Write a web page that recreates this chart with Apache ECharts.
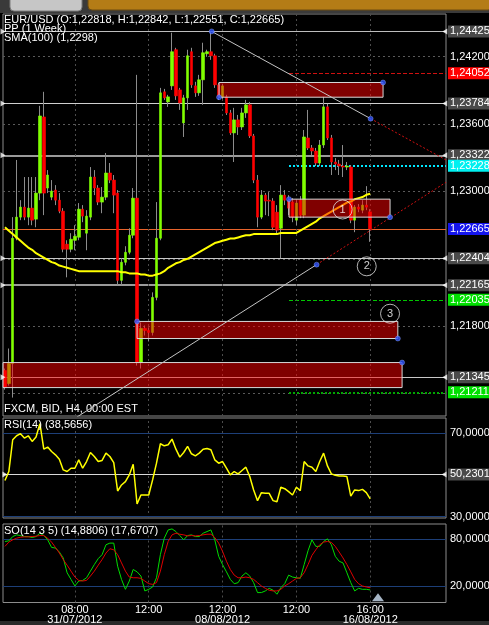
<!DOCTYPE html>
<html>
<head>
<meta charset="utf-8">
<script src="https://cdn.jsdelivr.net/npm/echarts@6/dist/echarts.min.js"></script>
<style>
html, body { margin: 0; padding: 0; background: #000; }
#chart { width: 489px; height: 625px; }
</style>
</head>
<body>
<div id="chart"></div>
<script>
// slots on the time axis, bars + empty room on the right
var slotCount = 114;
var timeLabels = ['08:00\n31/07/2012', '12:00', '12:00\n08/08/2012', '12:00', '16:00\n16/08/2012'];
var timeLabelIdx = [18, 37, 56, 75, 94];

// EUR/USD H4 bars: open, close, low, high
var ohlc = [
  [1.21405,1.21253,1.21235,1.21423],[1.21289,1.21467,1.21271,1.21601],[1.21467,1.22583,1.21164,1.22771],
  [1.22583,1.22771,1.22565,1.23280],[1.22771,1.22860,1.22744,1.22922],[1.22860,1.22771,1.22744,1.23128],
  [1.22771,1.22851,1.22699,1.23128],[1.22851,1.22744,1.22699,1.23128],[1.22753,1.22985,1.22681,1.23128],
  [1.22985,1.23672,1.22922,1.23762],[1.23663,1.22985,1.22789,1.23887],[1.23030,1.23146,1.22985,1.23190],
  [1.22949,1.23003,1.22922,1.23101],[1.23012,1.22922,1.22878,1.23056],[1.22922,1.22824,1.22806,1.22985],
  [1.22824,1.22485,1.22458,1.22851],[1.22530,1.22485,1.22235,1.22565],[1.22485,1.22574,1.22458,1.22628],
  [1.22565,1.22601,1.22476,1.22699],[1.22592,1.22842,1.22565,1.22896],[1.22842,1.22780,1.22726,1.22878],
  [1.22628,1.22780,1.22476,1.22833],[1.22771,1.23128,1.22744,1.23217],[1.23128,1.23030,1.22967,1.23190],
  [1.23030,1.22905,1.22878,1.23056],[1.22905,1.22949,1.22806,1.23039],[1.22949,1.23164,1.22922,1.23342],
  [1.23164,1.23101,1.23074,1.23253],[1.23101,1.22967,1.22806,1.23146],[1.22985,1.22208,1.22164,1.23012],
  [1.22208,1.22369,1.22164,1.22405],[1.22369,1.22458,1.22342,1.22512],[1.22458,1.22610,1.22440,1.22672],
  [1.22610,1.22940,1.22583,1.23030],[1.22940,1.21476,1.21449,1.24038],[1.21476,1.21780,1.21423,1.21833],
  [1.21780,1.21762,1.21717,1.21806],[1.21762,1.21744,1.21664,1.21789],[1.21744,1.22056,1.21717,1.22101],
  [1.22056,1.22583,1.22030,1.22905],[1.22583,1.23878,1.22565,1.23922],[1.23887,1.23833,1.23815,1.23913],
  [1.23797,1.23842,1.23753,1.23860],[1.23940,1.24244,1.23904,1.24413],[1.24262,1.23851,1.23815,1.24279],
  [1.23904,1.23788,1.23726,1.23922],[1.23610,1.23833,1.23485,1.23860],[1.23833,1.24208,1.23726,1.24262],
  [1.24244,1.23949,1.23922,1.24279],[1.23940,1.23878,1.23842,1.23976],[1.23878,1.23994,1.23851,1.24038],
  [1.23994,1.24235,1.23771,1.24324],[1.24226,1.24244,1.24199,1.24262],[1.24244,1.24208,1.24172,1.24422],
  [1.24208,1.23949,1.23922,1.24226],[1.23949,1.23842,1.23815,1.23967],[1.23842,1.23940,1.23824,1.23958],
  [1.23842,1.23699,1.23681,1.23860],[1.23699,1.23521,1.23503,1.23726],[1.23521,1.23637,1.23262,1.23744],
  [1.23637,1.23574,1.23503,1.23681],[1.23574,1.23699,1.23547,1.23744],[1.23699,1.23771,1.23655,1.23815],
  [1.23771,1.23494,1.23476,1.23797],[1.23494,1.23101,1.23074,1.23512],[1.23101,1.22771,1.22681,1.23146],
  [1.22771,1.22967,1.22753,1.23012],[1.22967,1.22914,1.22789,1.22985],[1.22922,1.22914,1.22780,1.22994],
  [1.22914,1.22681,1.22655,1.22940],[1.22815,1.22655,1.22628,1.22878],[1.22672,1.22967,1.22405,1.23056],
  [1.22967,1.22922,1.22878,1.23012],[1.22922,1.22851,1.22789,1.22967],[1.22905,1.22771,1.22726,1.22940],
  [1.22744,1.22896,1.22699,1.22922],[1.22922,1.22789,1.22762,1.22958],[1.22789,1.23485,1.22762,1.23547],
  [1.23476,1.23387,1.23369,1.23726],[1.23387,1.23360,1.23324,1.23413],[1.23360,1.23253,1.23226,1.23387],
  [1.23253,1.23413,1.23226,1.23458],[1.23413,1.23753,1.23387,1.23842],[1.23753,1.23476,1.23458,1.23780],
  [1.23476,1.23262,1.23146,1.23503],[1.23262,1.23244,1.23190,1.23297],[1.23244,1.23226,1.23146,1.23280],
  [1.23226,1.23217,1.23128,1.23413],[1.23217,1.23226,1.23190,1.23262],[1.23217,1.22744,1.22717,1.23235],
  [1.22744,1.22860,1.22637,1.22878],[1.22860,1.22842,1.22815,1.22887],[1.22833,1.22878,1.22806,1.22922],
  [1.22878,1.22860,1.22833,1.23047],[1.22818,1.22665,1.22551,1.22842]
];

var sma100 = [1.2268,1.2265,1.2262,1.2259,1.2256,1.2253,1.2250,1.2248,1.2245,1.2243,
  1.2241,1.2239,1.2237,1.2236,1.2234,1.2233,1.2232,1.2231,1.2230,1.2229,
  1.2229,1.2229,1.2229,1.2229,1.2229,1.2229,1.2229,1.2229,1.2229,1.2229,
  1.2228,1.2228,1.2227,1.2227,1.2227,1.2226,1.2226,1.2225,1.2225,1.2226,
  1.2227,1.2229,1.2232,1.2234,1.2236,1.2237,1.2239,1.2240,1.2242,1.2244,
  1.2246,1.2248,1.2250,1.2252,1.2254,1.2255,1.2256,1.2257,1.2258,1.2258,
  1.2259,1.2260,1.2261,1.2261,1.2262,1.2262,1.2262,1.2262,1.2262,1.2262,
  1.2262,1.2263,1.2263,1.2263,1.2263,1.2263,1.2265,1.2267,1.2269,1.2271,
  1.2273,1.2276,1.2278,1.2280,1.2282,1.2284,1.2286,1.2288,1.2290,1.2291,
  1.2293,1.2294,1.2295,1.2297,1.2298];

var rsi14 = [47.3,51.6,66.8,68.7,69.7,67.6,68.7,66.0,68.1,74.5,
  62.3,63.3,61.2,59.6,57.5,52.4,51.6,53.2,53.2,57.2,
  53.2,56.4,60.7,58.8,56.4,56.9,60.4,58.8,55.9,42.3,
  45.2,46.8,50.0,55.1,36.1,40.4,40.4,40.4,47.6,55.6,
  64.9,63.9,64.4,67.1,62.3,58.5,60.7,63.6,60.1,59.1,
  60.4,62.3,62.6,62.0,57.2,55.6,56.4,53.2,50.0,51.6,
  50.5,52.1,53.7,49.2,42.8,37.7,41.5,41.2,41.2,37.7,
  37.2,44.1,43.4,42.0,40.4,44.1,42.5,56.4,54.3,53.7,
  51.6,56.4,60.4,54.3,50.5,49.8,49.5,49.5,49.2,39.9,
  42.8,42.5,43.1,41.5,38.57];

var stochK = [77.0,77.8,83.3,85.5,84.6,83.3,83.3,82.1,83.3,87.6,
  84.6,79.1,69.4,68.6,63.5,55.9,36.9,28.4,20.0,26.3,
  27.1,30.5,39.0,47.4,55.0,60.1,72.8,74.9,74.9,45.3,
  28.4,15.7,26.3,41.1,38.1,32.7,13.6,15.7,18.7,30.5,
  60.1,81.2,91.8,93.1,89.7,84.6,79.1,84.6,85.5,83.3,
  83.3,87.6,89.7,91.8,79.1,58.0,47.4,38.1,28.4,22.9,
  24.2,32.7,36.9,32.7,24.2,11.5,11.5,13.6,17.0,14.5,
  9.4,17.8,22.9,33.9,31.4,30.5,29.7,47.4,65.2,79.1,
  70.7,70.7,77.0,80.4,72.8,58.0,51.7,49.5,36.9,24.2,
  13.6,17.0,15.7,15.7,14.88];

var stochD = [70.7,76.2,79.1,81.2,82.5,82.9,82.9,83.3,83.8,84.6,
  84.6,81.2,76.2,69.4,62.2,53.8,46.6,39.0,31.4,27.1,
  26.3,27.1,32.7,39.0,46.6,53.8,62.2,67.7,66.4,60.1,
  49.5,39.0,31.4,30.5,30.5,29.7,26.3,22.9,22.0,24.2,
  39.0,60.1,77.0,85.5,87.6,86.3,85.5,84.2,84.6,84.2,
  84.6,85.5,86.3,86.3,82.1,74.9,64.3,51.7,41.1,33.9,
  30.5,30.5,31.4,30.5,28.4,24.2,20.0,17.0,14.5,13.6,
  13.6,15.7,20.0,22.9,26.3,29.7,30.5,36.9,47.4,59.1,
  66.4,72.8,76.2,77.0,75.8,70.7,63.5,55.9,47.4,38.1,
  28.4,22.9,20.0,18.7,17.67];

// price levels
var pivotLevels = [1.24425, 1.23784, 1.23322, 1.22404, 1.22165, 1.21345];
var gridLevels = [1.242, 1.236, 1.230, 1.224, 1.218, 1.212];
var gridLabelLevels = [1.242, 1.236, 1.230, 1.218];
var alertLevels = [1.24052, 1.23228, 1.22035, 1.21211];
var alertStart = 73.1;
var lastPrice = 1.22665;

// drawn objects, in bar index / price units
var zones = [[55.1, 1.23839, 97.3, 1.23970], [73.1, 1.22771, 99.1, 1.22931],
             [34.0, 1.21690, 101.1, 1.21842], [-0.5, 1.21253, 102.2, 1.21476]];
var trendHigh = [[53.2, 1.24425], [94.1, 1.23648]];
var trendHighExt = [[94.1, 1.23648], [113.5, 1.23280]];
var trendLow = [[18.5, 1.2099], [80.2, 1.22348]];
var trendLowExt = [[80.2, 1.22348], [113.5, 1.23081]];
var anchors = [[53.2, 1.24425], [94.1, 1.23648], [80.2, 1.22348], [55.1, 1.23839], [97.3, 1.23970],
               [73.1, 1.22931], [99.1, 1.22771], [34.0, 1.21842], [101.1, 1.21690], [102.2, 1.21476]];
var waveMarks = [[86.9, 1.22839], [93.1, 1.22333], [99.1, 1.21911]];
var waveNames = ['1', '2', '3'];

var rsiLevels = [70, 30];
var rsiMid = 50.2301;
var soLevels = [80, 20];
var lastBarMark = [[96, 5.6]];

var FONT = 'Liberation Sans';
var xMin = -0.5, xMax = slotCount - 0.5;

var cats = [];
for (var i = 0; i < slotCount; i++) cats.push(String(i));

function fmtPrice(v) { return v.toFixed(5).replace('.', ','); }
function fmtOsc(v) { return v.toFixed(4).replace('.', ','); }

function boxLabel(text, bg) {
    return {
        show: true, position: 'end', distance: 2, formatter: text,
        color: '#fff', fontSize: 11, fontFamily: FONT,
        backgroundColor: bg || 'transparent', padding: [1, 2, 0, 2]
    };
}
function hLine(x1, x2, y, ls, label) {
    return [{ coord: [x1, y], lineStyle: ls, label: label || { show: false } }, { coord: [x2, y] }];
}
function vLines() {
    return timeLabelIdx.map(function (k) {
        return { xAxis: k, lineStyle: { color: '#4c4c4c', type: [2, 3], width: 1 }, label: { show: false } };
    });
}

// levels on the main panel
var mainLines = [];
gridLevels.forEach(function (v) {
    var lab = gridLabelLevels.indexOf(v) >= 0 ? boxLabel(fmtPrice(v)) : null;
    mainLines.push(hLine(xMin, xMax, v, { color: '#5a5a5a', type: [2, 3], width: 1 }, lab));
});
var pivotWidth = [1, 1, 2, 1, 2, 1];
var pivotColor = ['#bdbdbd', '#d0d0d0', '#9a9a9a', '#c8c8c8', '#9a9a9a', '#c8c8c8'];
pivotLevels.forEach(function (v, k) {
    mainLines.push(hLine(xMin, xMax, v, { color: pivotColor[k], type: 'solid', width: pivotWidth[k] },
        boxLabel(fmtPrice(v), '#4a4a4a')));
});
var alertBg = ['#ff0000', '#00f0f0', '#00e000', '#00e000'];
var alertLine = ['#d01010', '#00e8ff', '#00c800', '#00a800'];
var alertType = ['dashed', [2, 2], 'dashed', [2, 2]];
var alertWidth = [1, 2, 1, 2];
alertLevels.forEach(function (v, k) {
    mainLines.push(hLine(alertStart, xMax, v, { color: alertLine[k], type: alertType[k], width: alertWidth[k] },
        boxLabel(fmtPrice(v), alertBg[k])));
});
mainLines.push(hLine(xMin, xMax, lastPrice, { color: '#e8642c', type: 'solid', width: 1 },
    boxLabel(fmtPrice(lastPrice), '#1414ee')));
mainLines = mainLines.concat(vLines());

var rsiLines = vLines();
rsiLevels.forEach(function (v) {
    rsiLines.push({ yAxis: v, lineStyle: { color: '#1d3f78', type: 'solid', width: 1 }, label: boxLabel(fmtOsc(v)) });
});
rsiLines.push({ yAxis: rsiMid, lineStyle: { color: '#d8d8d8', type: 'solid', width: 1 }, label: boxLabel(fmtOsc(rsiMid), '#4a4a4a') });

var soLines = vLines();
soLevels.forEach(function (v) {
    soLines.push({ yAxis: v, lineStyle: { color: '#1d3f78', type: 'solid', width: 1 }, label: boxLabel(fmtOsc(v)) });
});

var bodies = ohlc.map(function (r) {
    return [r[0], r[1], Math.min(r[0], r[1]), Math.max(r[0], r[1])];
});

var zoneData = zones.map(function (z) {
    return [{ coord: [z[0], z[1]] }, { coord: [z[2], z[3]] }];
});

function trendSeries(data, color, type) {
    return {
        type: 'line', xAxisIndex: 1, yAxisIndex: 0, data: data, symbol: 'none', z: 7,
        lineStyle: { color: color, width: 1, type: type }, silent: true
    };
}

var gridStyle = { show: true, borderColor: '#8c8c8c', borderWidth: 1, backgroundColor: 'transparent' };
var txt = { color: '#fff', fontSize: 11, fontFamily: FONT, fontWeight: 'normal', lineHeight: 11 };

var chart = echarts.init(document.getElementById('chart'));
chart.setOption({
    animation: false,
    backgroundColor: '#000',
    textStyle: { fontFamily: FONT },
    graphic: [
        { type: 'rect', shape: { x: 0, y: 0, width: 489, height: 13 }, style: { fill: '#3a3a3a' } },
        { type: 'rect', shape: { x: 10, y: -4, width: 72, height: 15, r: 4 }, style: { fill: '#c6c6c6', stroke: '#7a7a7a' } },
        { type: 'rect', shape: { x: 88, y: -4, width: 404, height: 14, r: 4 }, style: { fill: '#b47c16', stroke: '#6a4a10' } },
        { type: 'rect', shape: { x: 0, y: 621, width: 489, height: 4 }, style: { fill: '#2a2a2a' } }
    ],
    title: [
        { text: 'EUR/USD (O:1,22818, H:1,22842, L:1,22551, C:1,22665)', left: 4, top: 14, padding: 0, textStyle: txt },
        { text: 'PP (1 Week)', left: 4, top: 23, padding: 0, textStyle: txt },
        { text: 'SMA(100) (1,2298)', left: 4, top: 32, padding: 0, textStyle: txt },
        { text: 'FXCM, BID, H4, 00:00 EST', left: 4, top: 403, padding: 0, textStyle: txt },
        { text: 'RSI(14) (38,5656)', left: 4, top: 419, padding: 0, textStyle: txt },
        { text: 'SO(14 3 5) (14,8806) (17,6707)', left: 4, top: 525, padding: 0, textStyle: txt }
    ],
    grid: [
        Object.assign({ left: 3, top: 14, width: 443, height: 402 }, gridStyle),
        Object.assign({ left: 3, top: 418, width: 443, height: 100 }, gridStyle),
        Object.assign({ left: 3, top: 524, width: 443, height: 79 }, gridStyle)
    ],
    xAxis: [
        { type: 'category', gridIndex: 0, data: cats, show: false },
        { type: 'value', gridIndex: 0, min: xMin, max: xMax, show: false },
        { type: 'category', gridIndex: 1, data: cats, show: false },
        {
            type: 'category', gridIndex: 2, data: cats,
            axisLine: { show: false }, axisTick: { show: false }, splitLine: { show: false },
            axisLabel: {
                interval: 0, margin: 2, color: '#fff', fontSize: 11, fontFamily: FONT, lineHeight: 10,
                formatter: function (v, idx) {
                    var k = timeLabelIdx.indexOf(idx);
                    return k >= 0 ? timeLabels[k] : '';
                }
            }
        }
    ],
    yAxis: [
        { type: 'value', gridIndex: 0, min: 1.2100, max: 1.2458, show: false },
        { type: 'value', gridIndex: 1, min: 29.4, max: 77.2, show: false },
        { type: 'value', gridIndex: 2, min: -1.2, max: 99.4, show: false }
    ],
    series: [
        // wicks
        {
            type: 'candlestick', xAxisIndex: 0, yAxisIndex: 0, data: ohlc, barWidth: 1, z: 2,
            itemStyle: { color: '#8c8c8c', color0: '#8c8c8c', borderColor: '#8c8c8c', borderColor0: '#8c8c8c', borderColorDoji: '#8c8c8c', borderWidth: 1 }
        },
        // bodies
        {
            type: 'candlestick', xAxisIndex: 0, yAxisIndex: 0, data: bodies, barWidth: 3, z: 3,
            itemStyle: { color: '#80ff00', color0: '#ff0000', borderColor: '#80ff00', borderColor0: '#ff0000', borderColorDoji: '#b0b0b0', borderWidth: 0.6 }
        },
        {
            name: 'SMA(100)', type: 'line', xAxisIndex: 0, yAxisIndex: 0, data: sma100, symbol: 'none', z: 4,
            lineStyle: { color: '#ffff00', width: 2 }, silent: true
        },
        {
            type: 'line', xAxisIndex: 1, yAxisIndex: 0, data: [], silent: true,
            markLine: { symbol: ['none', 'none'], silent: true, z: 1, animation: false, data: mainLines }
        },
        {
            type: 'line', xAxisIndex: 1, yAxisIndex: 0, data: [], silent: true,
            markArea: {
                silent: true, z: 6, animation: false, data: zoneData,
                itemStyle: { color: 'rgba(255,0,0,0.5)', borderColor: '#d8d8d8', borderWidth: 1 }
            }
        },
        trendSeries(trendHigh, '#c4c4c4', 'solid'),
        trendSeries(trendHighExt, '#d01010', [2, 2]),
        trendSeries(trendLow, '#c4c4c4', 'solid'),
        trendSeries(trendLowExt, '#d01010', [2, 2]),
        {
            type: 'scatter', xAxisIndex: 1, yAxisIndex: 0, data: anchors, symbolSize: 5, z: 9, silent: true,
            itemStyle: { color: '#2a52ff', borderColor: '#9ab0ff', borderWidth: 0.5 }
        },
        {
            type: 'scatter', xAxisIndex: 1, yAxisIndex: 0, data: waveMarks, symbolSize: 19, z: 8, silent: true,
            itemStyle: { color: 'rgba(0,0,0,0)', borderColor: '#e0e0e0', borderWidth: 1 },
            label: {
                show: true, position: 'inside', color: '#fff', fontSize: 11, fontFamily: FONT,
                formatter: function (p) { return waveNames[p.dataIndex]; }
            }
        },
        {
            type: 'scatter', xAxisIndex: 1, yAxisIndex: 0, clip: false, silent: true, z: 9,
            data: pivotLevels.map(function (v) { return [xMin, v]; }),
            symbol: 'triangle', symbolSize: [6, 5], symbolRotate: -90, itemStyle: { color: '#fff' }
        },
        {
            type: 'scatter', xAxisIndex: 1, yAxisIndex: 0, clip: false, silent: true, z: 9,
            data: pivotLevels.map(function (v) { return [113.2, v]; }),
            symbol: 'triangle', symbolSize: [6, 5], symbolRotate: 90, itemStyle: { color: '#fff' }
        },
        // RSI
        {
            name: 'RSI(14)', type: 'line', xAxisIndex: 2, yAxisIndex: 1, data: rsi14, symbol: 'none', z: 3,
            lineStyle: { color: '#ffff00', width: 1.5 }, silent: true,
            markLine: { symbol: ['none', 'none'], silent: true, z: 1, animation: false, data: rsiLines }
        },
        {
            type: 'scatter', xAxisIndex: 2, yAxisIndex: 1, clip: false, silent: true, z: 9,
            data: [[0, rsiMid]], symbol: 'triangle', symbolSize: [6, 5], symbolRotate: -90, itemStyle: { color: '#fff' }
        },
        {
            type: 'scatter', xAxisIndex: 2, yAxisIndex: 1, clip: false, silent: true, z: 9,
            data: [[113, rsiMid]], symbol: 'triangle', symbolSize: [6, 5], symbolRotate: 90, itemStyle: { color: '#fff' }
        },
        // Stochastic
        {
            name: '%K', type: 'line', xAxisIndex: 3, yAxisIndex: 2, data: stochK, symbol: 'none', z: 3,
            lineStyle: { color: '#00dd00', width: 1 }, silent: true,
            markLine: { symbol: ['none', 'none'], silent: true, z: 1, animation: false, data: soLines }
        },
        {
            name: '%D', type: 'line', xAxisIndex: 3, yAxisIndex: 2, data: stochD, symbol: 'none', z: 4,
            lineStyle: { color: '#e00000', width: 1 }, silent: true
        },
        {
            type: 'scatter', xAxisIndex: 3, yAxisIndex: 2, clip: false, silent: true, z: 9,
            data: lastBarMark, symbol: 'triangle', symbolSize: [12, 8], itemStyle: { color: '#cfe2f6' }
        }
    ]
});
</script>
</body>
</html>
